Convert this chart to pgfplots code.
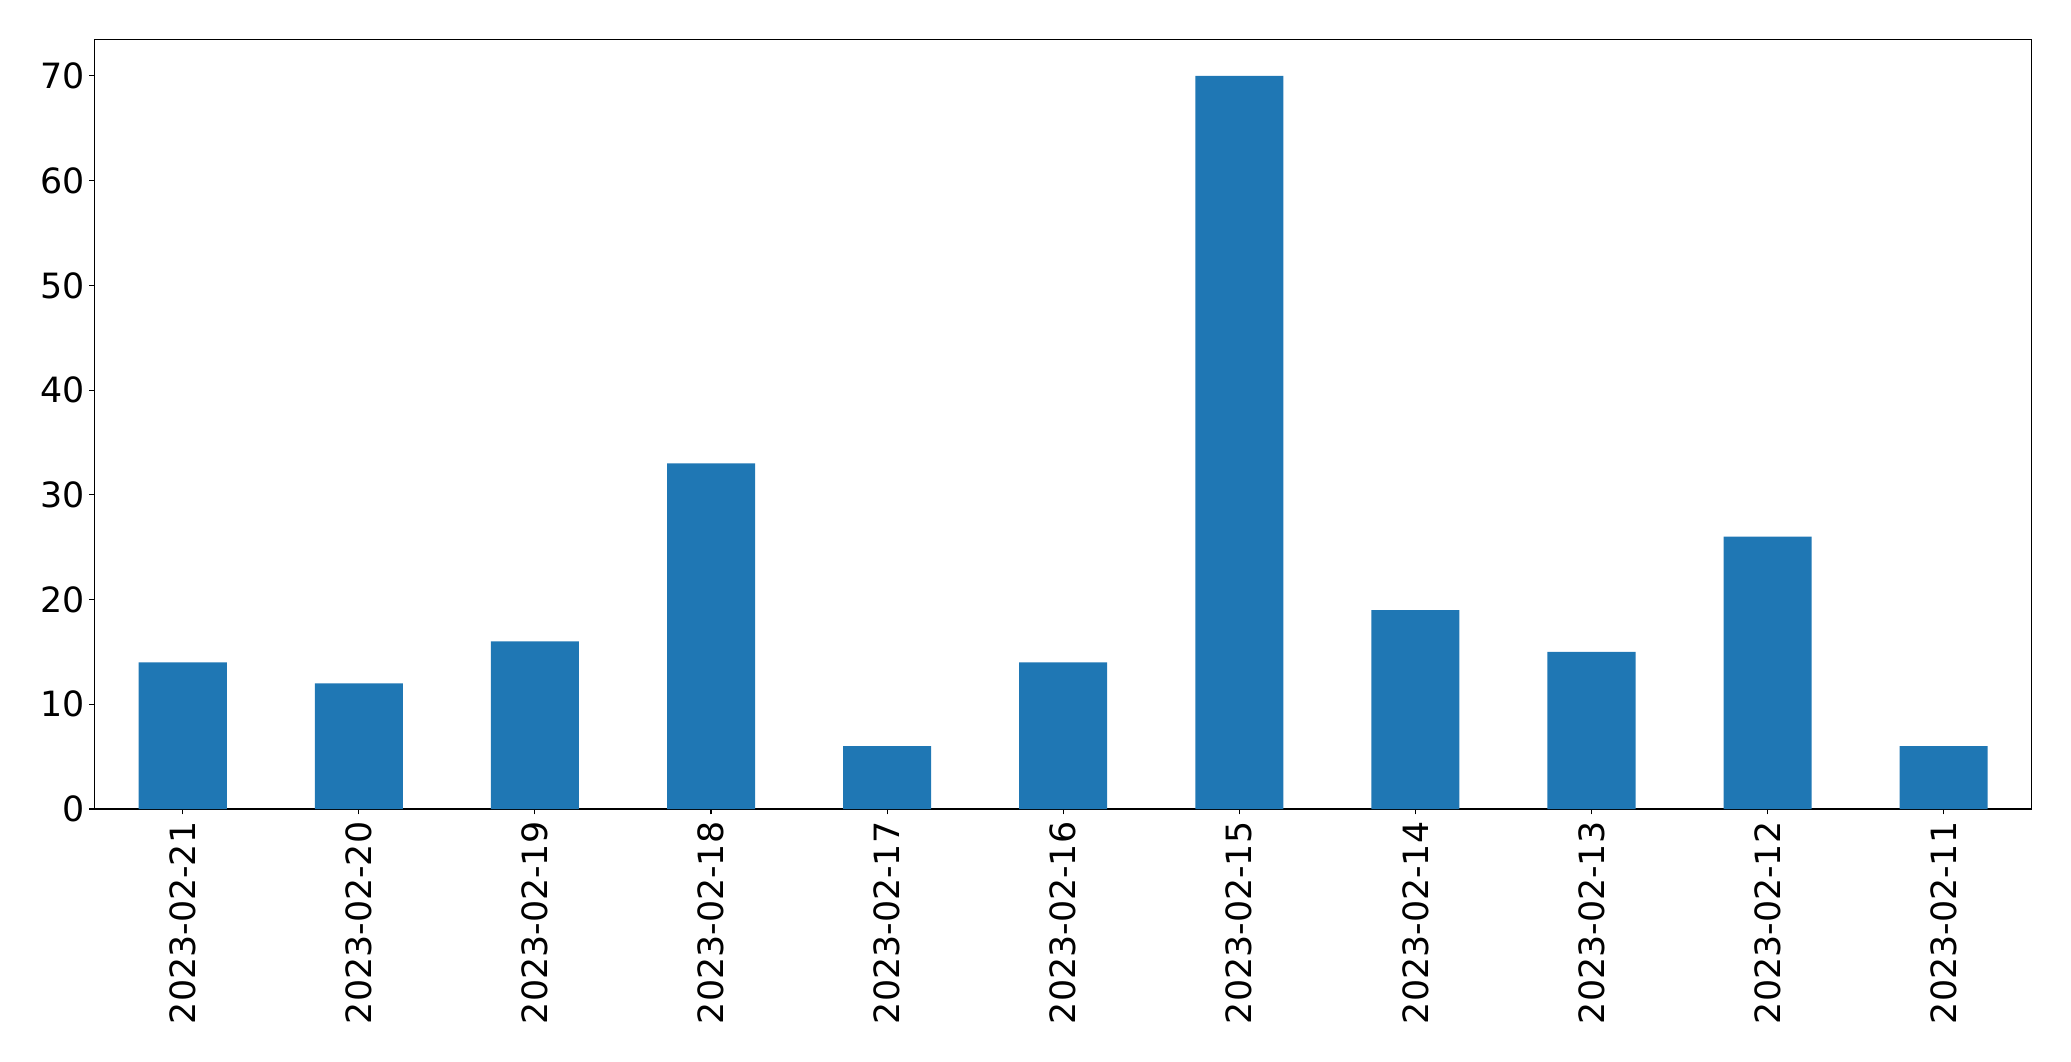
\documentclass[border=0pt]{standalone}
\usepackage{pgfplots}
\pgfplotsset{compat=1.18}
\usepackage{fontspec}
\setmainfont{DejaVu Sans}
\definecolor{barblue}{HTML}{1F77B4}
\begin{document}
\fontsize{17.4}{20}\selectfont
\begin{tikzpicture}
\begin{axis}[name=ax, scale only axis, width=968.5pt, height=384.85pt,
  xmin=-0.5, xmax=10.5, ymin=0, ymax=73.5,
  xtick={0,...,10},
  xticklabels={2023-02-21,2023-02-20,2023-02-19,2023-02-18,2023-02-17,2023-02-16,2023-02-15,2023-02-14,2023-02-13,2023-02-12,2023-02-11},
  ytick={0,10,20,30,40,50,60,70},
  tick align=outside, xtick pos=bottom, ytick pos=left,
  major tick length=2.7pt,
  tick style={black, line width=0.55pt},
  axis line style={line width=0.55pt},
  xticklabel style={rotate=90, anchor=east, inner sep=0pt},
  yticklabel style={inner sep=0pt},
  xticklabel shift=3.5pt,
  yticklabel shift=2pt,
  /pgf/number format/assume math mode=true,
  ybar, bar width=0.5,
]
\addplot[fill=barblue, draw=none] coordinates {(0,14) (1,12) (2,16) (3,33) (4,6) (5,14) (6,70) (7,19) (8,15) (9,26) (10,6)};
\end{axis}
\pgfresetboundingbox
\path (ax.south west) ++(-47.35pt,-126pt) coordinate (bl);
\path (ax.north east) ++(19.65pt,19.65pt) coordinate (tr);
\path[use as bounding box] (bl) rectangle (tr);
\end{tikzpicture}
\end{document}
